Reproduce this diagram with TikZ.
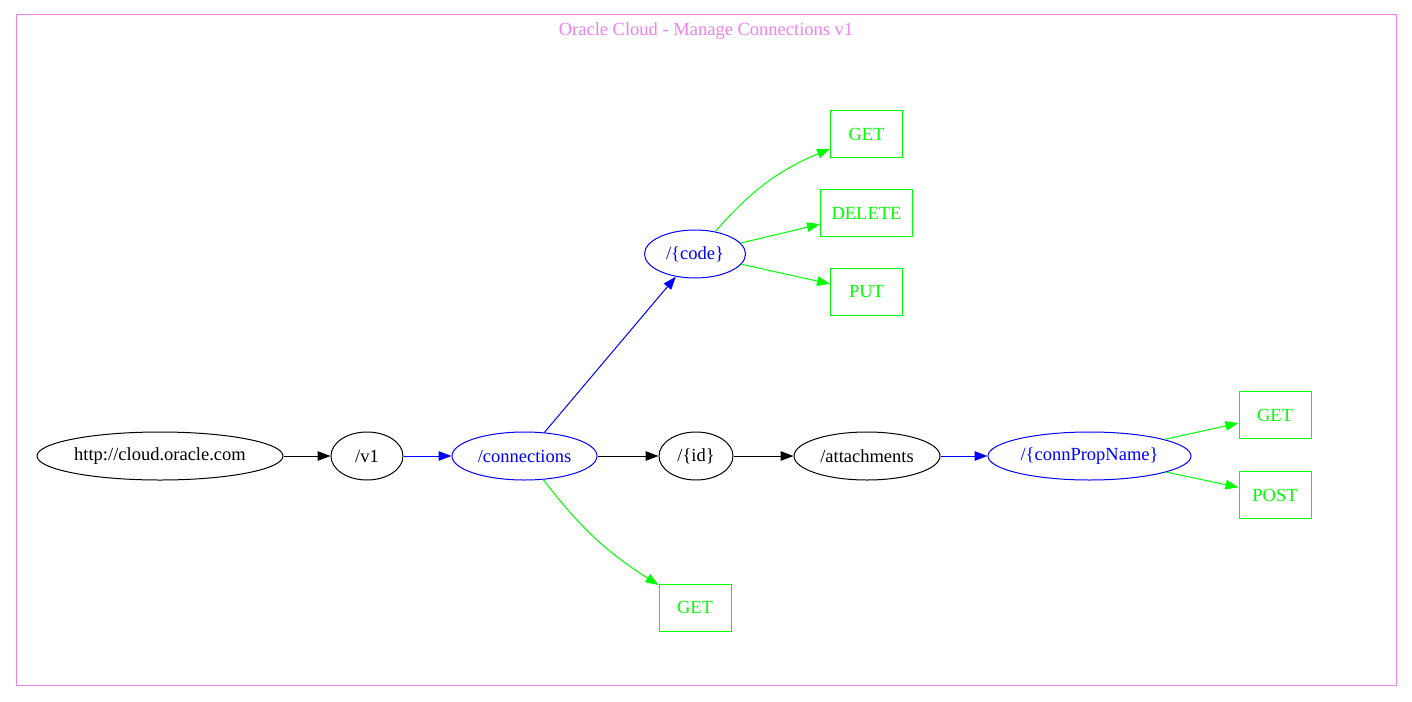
\documentclass[tikz,border=0pt]{standalone}
\usepackage{fontspec}
\setmainfont{Liberation Serif}
\usepackage{tikz}
\usetikzlibrary{arrows.meta}
\usetikzlibrary{positioning}
\usetikzlibrary{shapes.geometric}

\definecolor{apiviolet}{HTML}{EE82EE}
\definecolor{apiblue}{HTML}{0000FF}
\definecolor{apigreen}{HTML}{00FF00}

\begin{document}
\begin{tikzpicture}[
            x=1pt,y=1pt,
            line width=1pt,
            every node/.style={font=\fontsize{18.5}{22}\selectfont,inner sep=0pt},
            res node/.style={ellipse,draw,minimum height=48pt},
            path node/.style={res node,draw=apiblue,text=apiblue},
            verb node/.style={rectangle,draw=apigreen,text=apigreen,minimum width=72pt,minimum height=47pt},
            link/.style={-{Triangle[length=13pt,width=9.5pt]}},
            blue link/.style={link,draw=apiblue},
            green link/.style={link,draw=apigreen}
        ]
        \useasboundingbox (0,0) rectangle (1412,-701);
        \draw[apiviolet] (16,-15) rectangle (1396,-685);
        \node[text=apiviolet] (title) at (706,-31) {Oracle Cloud - Manage Connections v1};

        \node [res node,minimum width=246pt] (root) at (160,-456) {http://cloud.oracle.com};
        \node [res node,minimum width=72pt,right=47pt of root] (v1) {/v1};
        \node [path node,minimum width=145pt,right=48pt of v1] (connections) {/connections};
        \node [res node,minimum width=74pt,right=61pt of connections] (id) {/\{id\}};
        \node [res node,minimum width=146pt,right=60pt of id] (attachments) {/attachments};
        \node [path node,minimum width=203pt,right=47pt of attachments] (connprop) {/\{connPropName\}};
        \node [path node,minimum width=101pt,above=153pt of id,xshift=-1pt] (code) {/\{code\}};
        \node [verb node,below=103pt of id,xshift=-1pt] (conn get) {GET};
        \node [verb node,minimum width=92pt,right=74pt of code,yshift=41pt] (code delete) {DELETE};
        \node [verb node,above=31pt of code delete] (code get) {GET};
        \node [verb node,below=31pt of code delete] (code put) {PUT};
        \node [verb node,right=47pt of connprop,yshift=41pt] (prop get) {GET};
        \node [verb node,below=32pt of prop get] (prop post) {POST};

        \draw[link] (root) -- (v1);
        \draw[blue link] (v1) -- (connections);
        \draw[blue link] (connections) -- (code);
        \draw[link] (connections) -- (id);
        \draw[green link] (connections) to[bend right=10] (conn get);
        \draw[link] (id) -- (attachments);
        \draw[blue link] (attachments) -- (connprop);
        \draw[green link] (connprop) -- (prop get);
        \draw[green link] (connprop) -- (prop post);
        \draw[green link] (code) to[bend left=13] (code get);
        \draw[green link] (code) -- (code delete);
        \draw[green link] (code) -- (code put);
    \end{tikzpicture}
\end{document}
